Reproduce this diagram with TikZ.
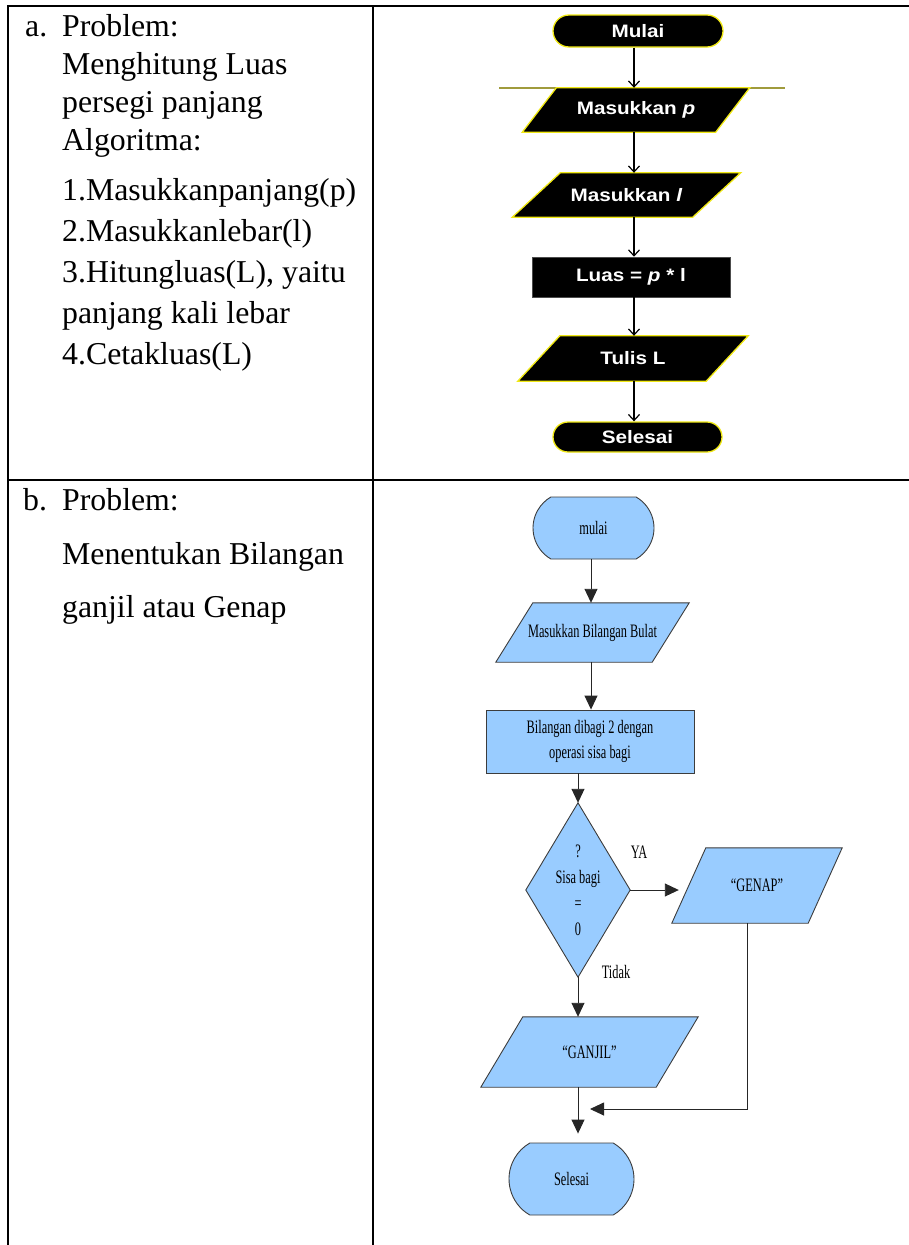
\documentclass[tikz,border=0pt]{standalone}
\usepackage{fontspec}
\setmainfont{Liberation Serif}
\newfontfamily\chartsans[FakeStretch=1.15]{Liberation Sans}
\newfontfamily\chartserif[FakeStretch=0.65]{Liberation Serif}
\usetikzlibrary{arrows.meta,backgrounds,shapes.misc}

\definecolor{termyellow}{RGB}{240,232,20}
\definecolor{rulegreen}{RGB}{160,155,60}
\definecolor{boxblue}{RGB}{153,204,255}
\definecolor{boxedge}{RGB}{60,60,60}

% slanted input/output frame around a named node: #1 node, #2 half slant, #3 style
\newcommand\slantframe[3]{%
  \path[#3] ([xshift=-#2]#1.south west) -- ([xshift=-#2]#1.south east)
    -- ([xshift=#2]#1.north east) -- ([xshift=#2]#1.north west) -- cycle;}

\begin{document}
\begin{tikzpicture}[x=1pt,y=-1pt,
  tablerule/.style={line width=1.6pt, line cap=rect},
  cell/.style={anchor=base west, inner sep=0pt, font=\fontsize{31.8}{38}\selectfont},
  darkfont/.style={text=white, font=\chartsans\bfseries\fontsize{18}{21}\selectfont},
  darkterm/.style={rounded rectangle, fill=black, draw=termyellow, line width=1.3pt, inner sep=0pt, darkfont},
  darkbox/.style={rectangle, fill=black, draw=black!70, line width=0.6pt, inner sep=0pt, darkfont},
  darkio/.style={rectangle, inner sep=0pt, darkfont},
  darkframe/.style={fill=black, draw=termyellow, line width=1.3pt},
  toparr/.style={-{Straight Barb[length=6pt,width=11pt]}, line width=1.2pt},
  bluefont/.style={font=\chartserif\fontsize{19}{25}\selectfont, align=center},
  blueterm/.style={rounded rectangle, rounded rectangle arc length=120, fill=boxblue, draw=boxedge, line width=0.9pt, inner sep=0pt, bluefont},
  bluebox/.style={rectangle, fill=boxblue, draw=boxedge, line width=0.9pt, inner sep=0pt, bluefont},
  blueio/.style={rectangle, inner sep=0pt, bluefont},
  blueframe/.style={fill=boxblue, draw=boxedge, line width=0.9pt},
  bluearr/.style={-{Triangle[length=14pt,width=13pt]}, line width=0.9pt, draw=black!85},
  bluelabel/.style={inner sep=0pt, font=\chartserif\fontsize{19}{22}\selectfont}
]
\useasboundingbox (0,0) rectangle (908,1245);

% table rules
\draw[tablerule] (8,6) -- (908,6);
\draw[tablerule] (8,480) -- (908,480);
\draw[tablerule] (8,6) -- (8,1245);
\draw[tablerule] (373,6) -- (373,1245);

% left column, row a
\node[cell] (la) at (25,36) {a.};
\node[cell] (a1) at (62,36) {Problem:};
\node[cell] (a2) at (62,74) {Menghitung Luas};
\node[cell] (a3) at (62,112) {persegi panjang};
\node[cell] (a4) at (62,150) {Algoritma:};
\node[cell] (a5) at (62,200) {1.Masukkanpanjang(p)};
\node[cell] (a6) at (62,241) {2.Masukkanlebar(l)};
\node[cell] (a7) at (62,282) {3.Hitungluas(L), yaitu};
\node[cell] (a8) at (62,323) {panjang kali lebar};
\node[cell] (a9) at (62,364) {4.Cetakluas(L)};

% left column, row b
\node[cell] (lb) at (23,510) {b.};
\node[cell] (b1) at (62,510) {Problem:};
\node[cell] (b2) at (62,564) {Menentukan Bilangan};
\node[cell] (b3) at (62,617) {ganjil atau Genap};

% flowchart: area of a rectangle
\node[darkterm, minimum width=170pt, minimum height=32pt] (mulaiA) at (638,31) {Mulai};
\node[darkio, minimum width=193pt, minimum height=44pt] (inP) at (636,110) {Masukkan \textit{p}};
\node[darkio, minimum width=180pt, minimum height=44pt] (inL) at (626.5,195) {Masukkan \textit{l}};
\node[darkbox, minimum width=198pt, minimum height=40pt] (luas) at (631,277) {Luas = \textit{p} * l};
\node[darkio, minimum width=188pt, minimum height=45pt] (tulis) at (633,358.5) {Tulis L};
\node[darkterm, minimum width=169pt, minimum height=30pt] (selesaiA) at (637.5,437) {Selesai};

\begin{scope}[on background layer]
  \draw[rulegreen, line width=1.3pt] (499,88) -- (785,88);
  \slantframe{inP}{17pt}{darkframe}
  \slantframe{inL}{24pt}{darkframe}
  \slantframe{tulis}{21pt}{darkframe}
\end{scope}

\coordinate (axA) at (634,0);
\draw[toparr] (axA |- mulaiA.south) -- (axA |- inP.north);
\draw[toparr] (axA |- inP.south) -- (axA |- inL.north);
\draw[toparr] (axA |- inL.south) -- (axA |- luas.north);
\draw[toparr] (axA |- luas.south) -- (axA |- tulis.north);
\draw[toparr] (axA |- tulis.south) -- (axA |- selesaiA.north);

% flowchart: odd or even
\node[blueterm, minimum width=121pt, minimum height=62pt] (mulaiB) at (593.5,528) {mulai};
\node[blueio, minimum width=156pt, minimum height=59pt] (inBil) at (592.5,632.5) {Masukkan Bilangan Bulat};
\node[bluebox, minimum width=208pt, minimum height=63pt] (bagi) at (590,741.5) {Bilangan dibagi 2 dengan\\operasi sisa bagi};
\node[blueio, minimum width=104pt, minimum height=174pt, font=\chartserif\fontsize{19}{26}\selectfont] (cek) at (578,890) {?\\Sisa bagi\\=\\0};
\node[blueio, minimum width=136pt, minimum height=75pt] (genap) at (757,885.5) {“GENAP”};
\node[blueio, minimum width=175pt, minimum height=70pt] (ganjil) at (589.5,1052) {“GANJIL”};
\node[blueterm, minimum width=125pt, minimum height=72pt] (selesaiB) at (571.5,1179) {Selesai};

\begin{scope}[on background layer]
  \slantframe{inBil}{18.5pt}{blueframe}
  \slantframe{genap}{17pt}{blueframe}
  \slantframe{ganjil}{21pt}{blueframe}
  \path[blueframe] (cek.north) -- (cek.east) -- (cek.south) -- (cek.west) -- cycle;
\end{scope}

\node[bluelabel] (ya) at (639,852) {YA};
\node[bluelabel] (tidak) at (616,972) {Tidak};

\coordinate (axB) at (591,0);
\coordinate (merge) at (590,1109);
\draw[bluearr] (axB |- mulaiB.south) -- (axB |- inBil.north);
\draw[bluearr] (axB |- inBil.south) -- (axB |- bagi.north);
\draw[bluearr] (cek.north |- bagi.south) -- (cek.north);
\draw[bluearr, shorten >=10pt] (cek.east) -- (cek.east -| genap.west);
\draw[bluearr] (cek.south) -- (cek.south |- ganjil.north);
\draw[bluearr, shorten >=9pt] (cek.south |- ganjil.south) -- (cek.south |- selesaiB.north);
\draw[bluearr] ([xshift=-10pt]genap.south) |- (merge);
\end{tikzpicture}
\end{document}
